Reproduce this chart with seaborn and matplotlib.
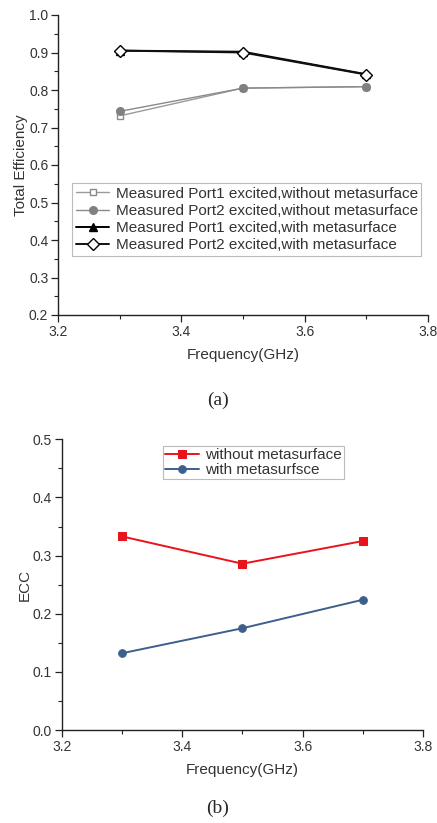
import matplotlib
matplotlib.use("Agg")
import matplotlib.pyplot as plt
from matplotlib.ticker import MultipleLocator
import seaborn as sns
import pandas as pd

# Frequencies (GHz)
freq = [3.3, 3.5, 3.7]

# Total efficiency
eff_p1_without = [0.731, 0.805, 0.809]
eff_p2_without = [0.743, 0.805, 0.809]
eff_p1_with = [0.905, 0.902, 0.842]
eff_p2_with = [0.905, 0.900, 0.841]

eff_labels = [
    "Measured Port1 excited,without metasurface",
    "Measured Port2 excited,without metasurface",
    "Measured Port1 excited,with metasurface",
    "Measured Port2 excited,with metasurface",
]

# Envelope correlation coefficient
ecc_without = [0.333, 0.286, 0.325]
ecc_with = [0.132, 0.175, 0.224]
ecc_labels = ["without metasurface", "with metasurfsce"]

sns.set_style("ticks")
plt.rcParams["font.family"] = ["Liberation Sans", "DejaVu Sans"]
plt.rcParams["xtick.direction"] = "out"
plt.rcParams["ytick.direction"] = "out"

text_c = "#333333"

fig = plt.figure(figsize=(4.37, 8.23), dpi=100)

def style_axes(ax, ylabel):
    sns.despine(ax=ax)
    for s in ("left", "bottom"):
        ax.spines[s].set_color("#222222")
        ax.spines[s].set_linewidth(1.0)
    ax.tick_params(which="major", length=5, width=0.9, color="#222222",
                   labelsize=10, labelcolor=text_c, pad=2)
    ax.tick_params(which="minor", length=3, width=0.8, color="#222222")
    ax.set_xlabel("Frequency(GHz)", fontsize=11, color=text_c, labelpad=6.5)
    ax.set_ylabel(ylabel, fontsize=11, color=text_c, labelpad=0.5)
    ax.set_facecolor("white")

# ---- (a) total efficiency ----
ax1 = fig.add_axes([58 / 437, 1 - 315 / 823, 370 / 437, 300 / 823])
styles = [
    dict(color="#9a9a9a", marker="s", mfc="white", mec="#8a8a8a", ms=5, lw=1.0),
    dict(color="#8a8a8a", marker="o", mfc="#808080", mec="#808080", ms=5.5, lw=1.0),
    dict(color="black", marker="^", mfc="black", mec="black", ms=6, lw=1.4),
    dict(color="#111111", marker="D", mfc="white", mec="black", ms=6.5, lw=1.4),
]
series = [eff_p1_without, eff_p2_without, eff_p1_with, eff_p2_with]
for vals, lab, st in zip(series, eff_labels, styles):
    df = pd.DataFrame({"f": freq, "v": vals})
    sns.lineplot(data=df, x="f", y="v", ax=ax1, label=lab,
                 color=st["color"], marker=st["marker"],
                 markerfacecolor=st["mfc"], markeredgecolor=st["mec"],
                 markeredgewidth=1.0, markersize=st["ms"], linewidth=st["lw"])
ax1.set_xlim(3.2, 3.8)
ax1.set_ylim(0.2, 1.0)
ax1.xaxis.set_major_locator(MultipleLocator(0.2))
ax1.xaxis.set_minor_locator(MultipleLocator(0.1))
ax1.yaxis.set_major_locator(MultipleLocator(0.1))
ax1.yaxis.set_minor_locator(MultipleLocator(0.05))
ax1.set_xticklabels([f"{t:.1f}" for t in ax1.get_xticks()])
ax1.set_yticklabels([f"{t:.1f}" for t in ax1.get_yticks()])
style_axes(ax1, "Total Efficiency")
leg1 = ax1.legend(loc="upper left", bbox_to_anchor=(14 / 370, (315 - 183) / 300),
                  fontsize=11, frameon=True, fancybox=False, framealpha=1,
                  edgecolor="#bbbbbb", handlelength=2.2, handletextpad=0.4,
                  borderpad=0.25, labelspacing=0.2, borderaxespad=0)
leg1.get_frame().set_linewidth(0.8)
for t in leg1.get_texts():
    t.set_color(text_c)

fig.text(218 / 437, 1 - 400 / 823, "(a)", ha="center", va="center",
         fontsize=14, family=["Liberation Serif", "DejaVu Serif"])

# ---- (b) ECC ----
ax2 = fig.add_axes([61.7 / 437, 1 - 730 / 823, (423 - 61.7) / 437, (730 - 439.3) / 823])
ecc_styles = [
    dict(color="#e8141c", marker="s", ms=5.5),
    dict(color="#3d5f8c", marker="o", ms=5.5),
]
for vals, lab, st in zip([ecc_without, ecc_with], ecc_labels, ecc_styles):
    df = pd.DataFrame({"f": freq, "v": vals})
    sns.lineplot(data=df, x="f", y="v", ax=ax2, label=lab,
                 color=st["color"], marker=st["marker"],
                 markerfacecolor=st["color"], markeredgecolor=st["color"],
                 markersize=st["ms"], linewidth=1.4)
ax2.set_xlim(3.2, 3.8)
ax2.set_ylim(0.0, 0.5)
ax2.xaxis.set_major_locator(MultipleLocator(0.2))
ax2.xaxis.set_minor_locator(MultipleLocator(0.1))
ax2.yaxis.set_major_locator(MultipleLocator(0.1))
ax2.yaxis.set_minor_locator(MultipleLocator(0.05))
ax2.set_xticklabels([f"{t:.1f}" for t in ax2.get_xticks()])
ax2.set_yticklabels([f"{t:.1f}" for t in ax2.get_yticks()])
style_axes(ax2, "ECC")
leg2 = ax2.legend(loc="upper left",
                  bbox_to_anchor=((163 - 61.7) / (423 - 61.7), (730 - 446) / (730 - 439.3)),
                  fontsize=11, frameon=True, fancybox=False, framealpha=1,
                  edgecolor="#bbbbbb", handlelength=2.2, handletextpad=0.4,
                  borderpad=0.15, labelspacing=0.05, borderaxespad=0)
leg2.get_frame().set_linewidth(0.8)
for t in leg2.get_texts():
    t.set_color(text_c)

fig.text(218 / 437, 1 - 808 / 823, "(b)", ha="center", va="center",
         fontsize=14, family=["Liberation Serif", "DejaVu Serif"])

fig.savefig("out.png", dpi=100, facecolor="white")
